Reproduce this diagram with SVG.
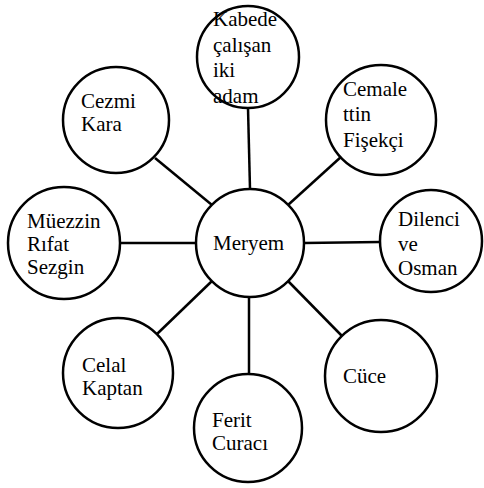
<svg xmlns="http://www.w3.org/2000/svg" width="484" height="488" viewBox="0 0 484 488">
<style>
.n{fill:#fff;stroke:#000;stroke-width:2.5}
.c{stroke:#000;stroke-width:2.5;fill:none}
text{font-family:'Liberation Serif','Times New Roman',serif;font-size:21px;fill:#000}
</style>
<rect width="484" height="488" fill="#fff"/>
<g id="connectors">
<line class="c" x1="248" y1="108" x2="250" y2="189"/>
<line class="c" x1="342" y1="156" x2="288" y2="205"/>
<line class="c" x1="155" y1="158" x2="212" y2="205"/>
<line class="c" x1="120" y1="243" x2="196" y2="243"/>
<line class="c" x1="304" y1="243" x2="380" y2="242"/>
<line class="c" x1="157" y1="334" x2="212" y2="281"/>
<line class="c" x1="342" y1="336" x2="288" y2="281"/>
<line class="c" x1="249" y1="297" x2="249" y2="374"/>
</g>
<g id="meryem"><circle class="n" cx="250" cy="243" r="54"/><text x="213" y="250">Meryem</text></g>
<g id="kabede"><circle class="n" cx="248" cy="57" r="51"/><text x="213" y="26">Kabede</text><text x="213" y="52">çalışan</text><text x="213" y="77">iki</text><text x="213" y="103">adam</text></g>
<g id="cemalettin"><circle class="n" cx="381" cy="120" r="55"/><text x="343" y="96">Cemale</text><text x="343" y="121">ttin</text><text x="343" y="147">Fişekçi</text></g>
<g id="cezmi"><circle class="n" cx="116" cy="120" r="53"/><text x="81" y="108">Cezmi</text><text x="81" y="131">Kara</text></g>
<g id="muezzin"><circle class="n" cx="64" cy="243" r="56"/><text x="27" y="228">Müezzin</text><text x="27" y="251">Rıfat</text><text x="27" y="274">Sezgin</text></g>
<g id="dilenci"><circle class="n" cx="431" cy="241" r="51"/><text x="398" y="226">Dilenci</text><text x="398" y="251">ve</text><text x="398" y="275">Osman</text></g>
<g id="cuce"><circle class="n" cx="381" cy="376" r="56"/><text x="343" y="383">Cüce</text></g>
<g id="celal"><circle class="n" cx="118" cy="373" r="55"/><text x="82" y="372">Celal</text><text x="82" y="395">Kaptan</text></g>
<g id="ferit"><circle class="n" cx="248" cy="428" r="54"/><text x="212" y="427">Ferit</text><text x="212" y="450">Curacı</text></g>
</svg>
